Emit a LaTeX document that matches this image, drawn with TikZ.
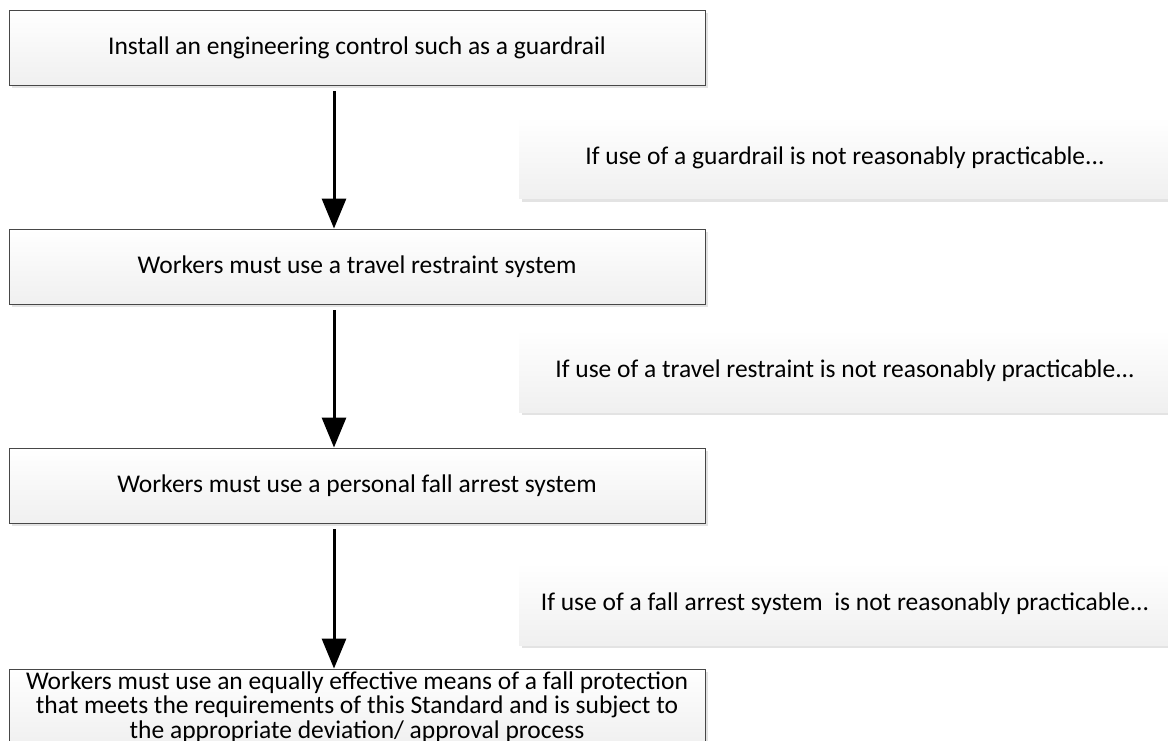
\documentclass[tikz,border=0pt]{standalone}
\usepackage{fontspec}
\setmainfont{Carlito}
\usetikzlibrary{arrows.meta,shadows}
\begin{document}
\begin{tikzpicture}[x=1pt,y=-1pt,
  mainbox/.style={draw=black!72, line width=0.9pt, top color=white, bottom color=black!6,
    minimum width=696pt, minimum height=75pt, inner sep=0pt, align=center,
    font=\fontsize{25.5}{27}\selectfont,
    general shadow={fill=black!11, shadow xshift=3pt, shadow yshift=-3pt}},
  sidebox/.style={top color=white, bottom color=black!6,
    minimum width=652pt, minimum height=82pt, inner sep=0pt, align=center,
    font=\fontsize{25.5}{27}\selectfont,
    general shadow={fill=black!11, shadow xshift=3pt, shadow yshift=-3pt}},
  arr/.style={line width=3pt, -{Triangle[width=24pt,length=30pt]}, shorten <=6pt}]
\useasboundingbox (0,0) rectangle (1168,741);
\clip (0,0) rectangle (1168,741);
\fill[white] (0,0) rectangle (1168,741);
\node[mainbox] (b1) at (357,47.5) {Install an engineering control such as a guardrail};
\node[mainbox] (b2) at (357,266.5) {Workers must use a travel restraint system};
\node[mainbox] (b3) at (357,485.5) {Workers must use a personal fall arrest system};
\node[mainbox, minimum height=76pt, font=\fontsize{25.5}{24.5}\selectfont] (b4) at (357,707) {Workers must use an equally effective means of a fall protection\\that meets the requirements of this Standard and is subject to\\the appropriate deviation/ approval process};
\node[sidebox] (s1) at (845,158) {If use of a guardrail is not reasonably practicable...};
\node[sidebox] (s2) at (845,371) {If use of a travel restraint is not reasonably practicable...};
\node[sidebox] (s3) at (845,604) {If use of a fall arrest system\ \ is not reasonably practicable...};
\draw[arr] ([xshift=-23pt]b1.south) -- ([xshift=-23pt]b2.north);
\draw[arr] ([xshift=-23pt]b2.south) -- ([xshift=-23pt]b3.north);
\draw[arr] ([xshift=-23pt]b3.south) -- ([xshift=-23pt]b4.north);
\end{tikzpicture}
\end{document}
